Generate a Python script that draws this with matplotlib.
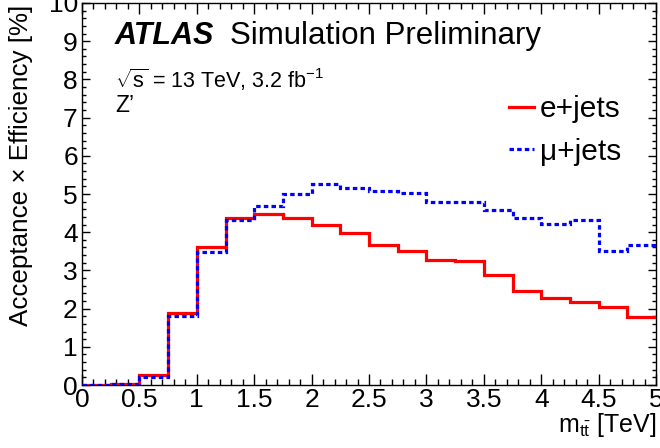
import matplotlib
matplotlib.use("Agg")
import matplotlib.pyplot as plt
import numpy as np
from matplotlib.lines import Line2D
from matplotlib.ticker import MultipleLocator

plt.rcParams["font.family"] = ["Liberation Sans", "DejaVu Sans"]
plt.rcParams["mathtext.fontset"] = "custom"
plt.rcParams["mathtext.rm"] = "Liberation Sans"
plt.rcParams["mathtext.it"] = "Liberation Sans:italic"

# bin edges in TeV (0.25 TeV bins)
bin_edges = np.arange(0, 5.01, 0.25)

# acceptance x efficiency [%]
ejets = [0.0, 0.02, 0.27, 1.88, 3.62, 4.36, 4.48, 4.37, 4.2, 3.99,
         3.67, 3.52, 3.26, 3.24, 2.89, 2.46, 2.27, 2.18, 2.03, 1.77]
mujets = [0.0, 0.02, 0.22, 1.81, 3.47, 4.33, 4.69, 5.0, 5.26, 5.15,
          5.07, 5.03, 4.78, 4.78, 4.57, 4.36, 4.21, 4.32, 3.52, 3.67]
xtick_labels = ["0", "0.5", "1", "1.5", "2", "2.5", "3", "3.5", "4", "4.5", "5"]

fig = plt.figure(figsize=(6.6, 4.48), dpi=100)
ax = fig.add_axes([82 / 660, 1 - 385 / 448, (656 - 82) / 660, (385 - 3) / 448])

ax.stairs(ejets, bin_edges, baseline=None, color="#ff0000", lw=2.3, zorder=3)
ax.stairs(mujets, bin_edges, baseline=None, color="#0000ff", lw=2.3,
          ls=(0, (1.4, 1.0)), zorder=4)

ax.set_xlim(0, 5)
ax.set_ylim(0, 10)
ax.set_xticks(np.arange(0, 5.01, 0.5))
ax.set_xticklabels(xtick_labels)
ax.xaxis.set_minor_locator(MultipleLocator(0.1))
ax.yaxis.set_major_locator(MultipleLocator(1))
ax.yaxis.set_minor_locator(MultipleLocator(0.2))

ax.tick_params(which="both", direction="in", top=True, right=True, labelsize=19, width=1.0)
ax.tick_params(axis="x", which="major", length=8, pad=2)
ax.tick_params(axis="x", which="minor", length=4.3)
ax.tick_params(axis="y", which="major", length=6, pad=3)
ax.tick_params(axis="y", which="minor", length=3)
for s in ax.spines.values():
    s.set_linewidth(1.0)

fig.text(21 / 660, 1 - 5 / 448, "Acceptance \u00d7 Efficiency [%]", rotation=90,
         ha="center", va="top", fontsize=18.7)
fig.text(656 / 660, 1 - 432 / 448, r"m$_{\mathrm{t\bar{t}}}$ [TeV]", ha="right",
         va="baseline", fontsize=18)

# ATLAS label block
fig.text(115 / 660, 1 - 44 / 448, "ATLAS", fontsize=22, fontweight="bold",
         fontstyle="italic", va="baseline")
fig.text(230 / 660, 1 - 44 / 448, "Simulation Preliminary", fontsize=22.5, va="baseline")
fig.text(115 / 660, 1 - 88 / 448, r"$\sqrt{\mathrm{s}}$ = 13 TeV, 3.2 fb$^{\mathregular{-1}}$",
         fontsize=15.5, va="baseline")
fig.text(115 / 660, 1 - 111.5 / 448, "Z\u2019", fontsize=16.5, va="baseline")

handles = [Line2D([], [], color="#ff0000", lw=2.3),
           Line2D([], [], color="#0000ff", lw=2.3, ls=(0, (1.4, 1.0)))]
ax.legend(handles, ["e+jets", "\u03bc+jets"], loc="upper left",
          bbox_to_anchor=(509 / 660, 1 - 95 / 448), bbox_transform=fig.transFigure,
          frameon=False, fontsize=21.5, handlelength=0.85, handletextpad=0.18,
          labelspacing=0.5, borderpad=0, borderaxespad=0)

fig.savefig("out.png", dpi=100)
